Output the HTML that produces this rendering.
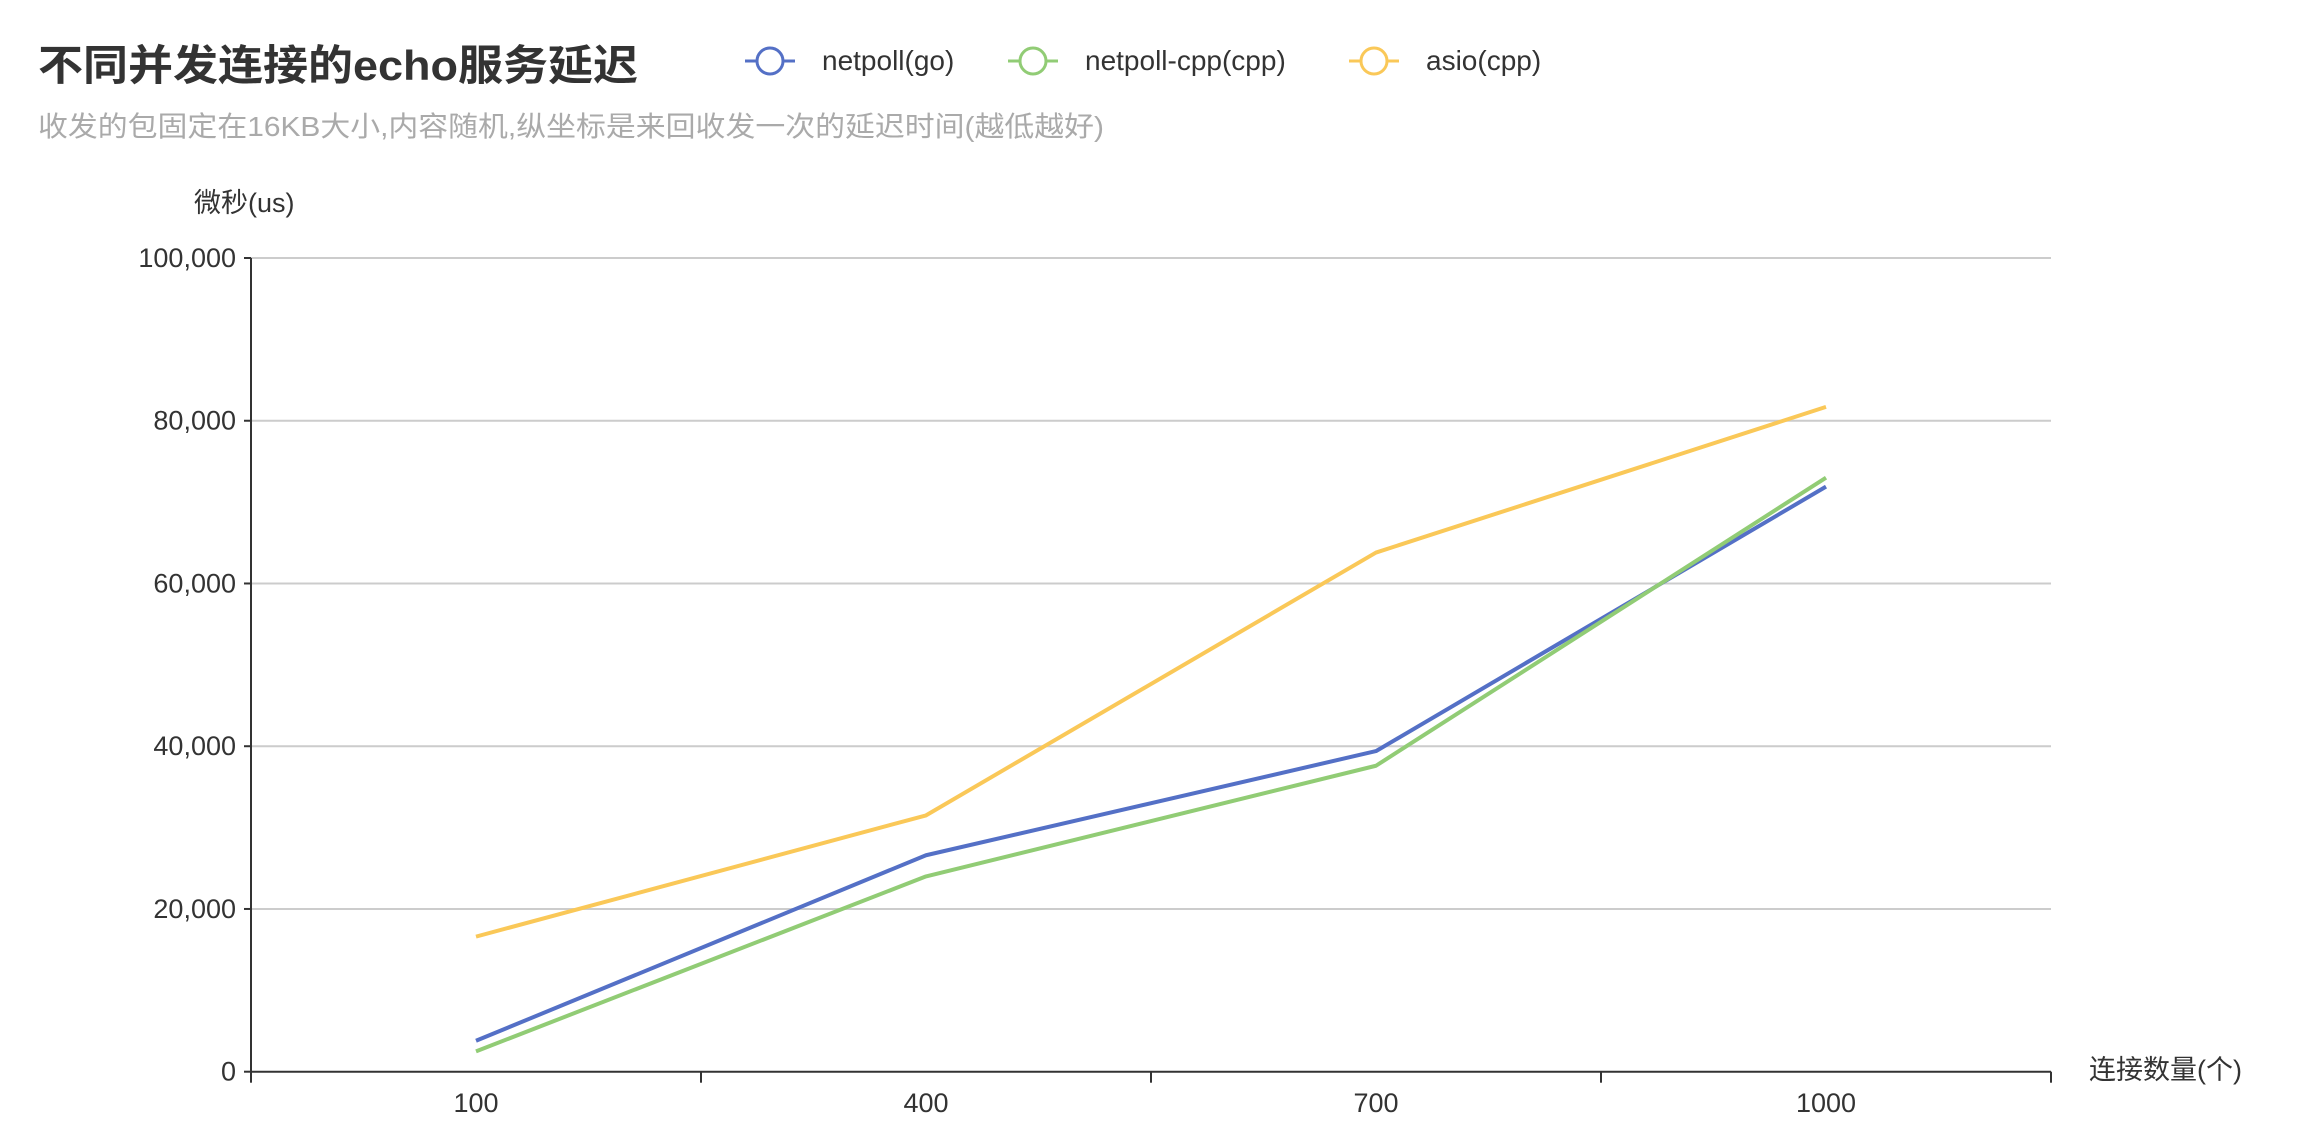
<!DOCTYPE html>
<html><head><meta charset="utf-8"><style>
body{margin:0;background:#fff;}
svg{display:block;font-family:"Liberation Sans","Noto Sans CJK SC",sans-serif;}
</style></head><body>
<svg id="chart" width="2303" height="1148">
<text x="38" y="80" font-size="42" font-weight="bold" fill="#333" textLength="600" lengthAdjust="spacingAndGlyphs">不同并发连接的echo服务延迟</text>
<text x="38" y="136" font-size="28" fill="#aaa" textLength="1066" lengthAdjust="spacingAndGlyphs">收发的包固定在16KB大小,内容随机,纵坐标是来回收发一次的延迟时间(越低越好)</text>
<text x="194" y="212" font-size="27" fill="#333">微秒(us)</text>
<text x="2089" y="1079" font-size="27" fill="#333">连接数量(个)</text>
<g id="legend"></g>
<g id="grid"></g>
<g id="axes"></g>
<g id="series"></g>
</svg>
<script>
const categories=["100","400","700","1000"];
const seriesNames=["netpoll(go)","netpoll-cpp(cpp)","asio(cpp)"];
const netpollGo=[3800,26600,39400,71900];
const netpollCpp=[2500,24000,37600,73000];
const asioCpp=[16600,31500,63800,81700];
const yTicks=[0,20000,40000,60000,80000,100000];
const colors=["#5470c6","#91cc75","#fac858"];
const NS="http://www.w3.org/2000/svg";
const L=251,R=2051,B=1071.7,T=258,yMax=100000;
const band=(R-L)/categories.length;
const xs=i=>L+band*(i+0.5);
const ys=v=>B-(B-T)*v/yMax;
function mk(tag,attrs,parent){const e=document.createElementNS(NS,tag);for(const k in attrs)e.setAttribute(k,attrs[k]);parent.appendChild(e);return e;}
const grid=document.getElementById('grid'),axes=document.getElementById('axes'),ser=document.getElementById('series'),leg=document.getElementById('legend');
yTicks.forEach(t=>{
 if(t>0){const g=mk('line',{x1:L,x2:R,y1:ys(t),y2:ys(t),stroke:'#ccc','stroke-width':2},grid);
 
 }
 const tk=mk('line',{x1:L-7,x2:L,y1:ys(t),y2:ys(t),stroke:'#333','stroke-width':2},axes);
 
 
 const lb=mk('text',{x:L-15,y:ys(t)+9,'text-anchor':'end','font-size':27,fill:'#333'},axes);
 lb.textContent=t.toLocaleString('en-US');
 
 
});
const ya=mk('line',{x1:L,x2:L,y1:T,y2:B,stroke:'#333','stroke-width':2},axes);


const xa=mk('line',{x1:L,x2:R,y1:B,y2:B,stroke:'#333','stroke-width':2},axes);


for(let i=0;i<=categories.length;i++){
 const tk=mk('line',{x1:L+band*i,x2:L+band*i,y1:B,y2:B+11,stroke:'#333','stroke-width':2},axes);
 
 
}
categories.forEach((c,i)=>{
 const lb=mk('text',{x:xs(i),y:1112,'text-anchor':'middle','font-size':27,fill:'#333'},axes);
 lb.textContent=c;
 
 
});
[netpollGo,netpollCpp,asioCpp].forEach((d,s)=>{
 const p=mk('polyline',{points:d.map((v,i)=>xs(i)+','+ys(v)).join(' '),fill:'none',stroke:colors[s],'stroke-width':4,'stroke-linejoin':'round'},ser);
 
 
});
const legX=[745,1008,1349];
seriesNames.forEach((n,s)=>{
 const g=mk('g',{},leg);
 
 
 mk('line',{x1:legX[s],x2:legX[s]+50,y1:61,y2:61,stroke:colors[s],'stroke-width':3},g);
 mk('circle',{cx:legX[s]+25,cy:61,r:13,fill:'#fff',stroke:colors[s],'stroke-width':3},g);
 const t=mk('text',{x:legX[s]+77,y:70,'font-size':28,fill:'#333'},g);
 t.textContent=n;
});
</script>
</body></html>
